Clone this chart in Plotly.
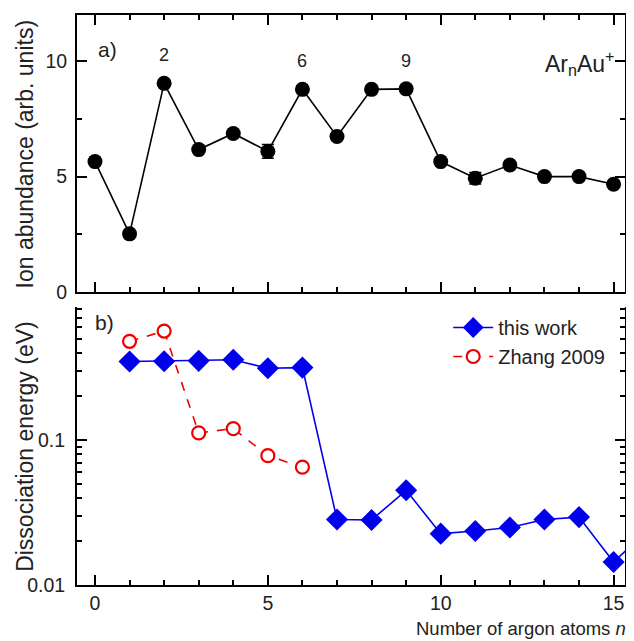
import plotly.graph_objects as go

# ---- data ----
n_abund = list(range(16))
abundance = [5.65, 2.52, 9.04, 6.17, 6.87, 6.09, 8.78, 6.74, 8.78, 8.80, 5.65, 4.93, 5.50, 5.00, 5.00, 4.67]
abund_err = [0, 0, 0, 0, 0, 0.3, 0, 0, 0, 0, 0, 0.25, 0, 0, 0, 0]

n_this = list(range(1, 17))
d_this = [0.348, 0.350, 0.352, 0.358, 0.313, 0.316, 0.0283, 0.0281, 0.045, 0.0226,
          0.0236, 0.0249, 0.0283, 0.0294, 0.0144, 0.024]

n_zhang = [1, 2, 3, 4, 5, 6]
d_zhang = [0.48, 0.565, 0.112, 0.12, 0.078, 0.065]

top_labels = [2, 6, 9]
bottom_labels = [6, 9, 14]

FONT = "Liberation Sans, Arial, sans-serif"

fig = go.Figure()

fig.add_trace(go.Scatter(
    x=n_abund, y=abundance, mode="lines+markers",
    line=dict(color="black", width=1.6),
    marker=dict(symbol="circle", size=15, color="black"),
    error_y=dict(type="data", array=abund_err, color="black", thickness=1.5, width=6),
    showlegend=False, xaxis="x", yaxis="y"))

fig.add_trace(go.Scatter(
    x=n_this, y=d_this, mode="lines+markers", name="this work",
    line=dict(color="#0000ee", width=1.6),
    marker=dict(symbol="diamond", size=17, color="#0000ee"),
    xaxis="x2", yaxis="y2"))

fig.add_trace(go.Scatter(
    x=n_zhang, y=d_zhang, mode="lines+markers", name="Zhang 2009",
    line=dict(color="#ee0000", width=1.6, dash="dash"),
    marker=dict(symbol="circle", size=13, color="white", line=dict(width=2.2, color="#ee0000")),
    xaxis="x2", yaxis="y2"))

axis_common = dict(showline=True, linewidth=2, linecolor="black", ticks="inside",
                   tickwidth=1.6, tickcolor="black", showgrid=False, zeroline=False,
                   tickfont=dict(family=FONT, size=19.5, color="#222"))

xr = [-0.52, 15.33]
fig.update_layout(
    width=626, height=633,
    margin=dict(l=69, r=9, t=5, b=56),
    paper_bgcolor="white", plot_bgcolor="white",
    font=dict(family=FONT, size=18, color="#222"),
    xaxis=dict(domain=[0, 1], anchor="y", range=xr, mirror="ticks", dtick=5, tick0=0,
               ticklen=10, showticklabels=False,
               minor=dict(ticks="inside", dtick=1, tick0=0, ticklen=5, tickwidth=1.6, tickcolor="black"),
               **axis_common),
    yaxis=dict(domain=[0.514, 1], anchor="x", range=[0, 12], mirror="ticks", dtick=5, tick0=0,
               ticklen=10, ticklabelstandoff=4,
               minor=dict(ticks="inside", dtick=2.5, tick0=0, ticklen=5, tickwidth=1.6, tickcolor="black"),
               **axis_common),
    xaxis2=dict(domain=[0, 1], anchor="y2", range=xr, mirror=False, dtick=5, tick0=0,
                ticklen=10,
                minor=dict(ticks="inside", dtick=1, tick0=0, ticklen=5, tickwidth=1.6, tickcolor="black"),
                **axis_common),
    yaxis2=dict(domain=[0, 0.488], anchor="x2", type="log", range=[-2, -0.081], mirror="ticks",
                tickvals=[0.01, 0.1], ticktext=["0.01", "0.1"], ticklen=10, ticklabelstandoff=6,
                minor=dict(ticks="inside", tickmode="array",
                           tickvals=[0.02, 0.03, 0.04, 0.05, 0.06, 0.07, 0.08, 0.09,
                                     0.2, 0.3, 0.4, 0.5, 0.6, 0.7, 0.8],
                           ticklen=5, tickwidth=1.6, tickcolor="black"),
                **axis_common),
    legend=dict(x=0.973, xanchor="right", y=0.486, yanchor="top",
                bgcolor="rgba(0,0,0,0)", font=dict(family=FONT, size=20, color="#222"),
                itemwidth=40, tracegroupgap=0),
)

ann = []
# axis titles
ann.append(dict(text="Ion abundance (arb. units)", xref="paper", yref="paper",
                x=-0.095, y=(0.514 + 1) / 2, textangle=-90, showarrow=False,
                font=dict(size=23), xanchor="center", yanchor="middle"))
ann.append(dict(text="Dissociation energy (eV)", xref="paper", yref="paper",
                x=-0.095, y=0.488 / 2, textangle=-90, showarrow=False,
                font=dict(size=23), xanchor="center", yanchor="middle"))
ann.append(dict(text="Number of argon atoms <i>n</i>", xref="paper", yref="paper",
                x=1.0055, y=-0.077, showarrow=False, font=dict(size=18.5),
                xanchor="right", yanchor="middle"))
# panel tags
ann.append(dict(text="a)", xref="paper", yref="paper", x=0.055, y=0.939,
                showarrow=False, font=dict(size=21), xanchor="center", yanchor="middle"))
ann.append(dict(text="b)", xref="paper", yref="paper", x=0.051, y=0.46,
                showarrow=False, font=dict(size=21), xanchor="center", yanchor="middle"))
ann.append(dict(text="Ar<sub>n</sub>Au<sup>+</sup>", xref="paper", yref="paper", x=0.985, y=0.915,
                showarrow=False, font=dict(size=23), xanchor="right", yanchor="middle"))
# peak labels
for n in top_labels:
    ann.append(dict(text=str(n), xref="x", yref="y", x=n, y=abundance[n_abund.index(n)],
                    yshift=28, showarrow=False, font=dict(size=18), yanchor="middle"))
for n in bottom_labels:
    ann.append(dict(text=str(n), xref="x2", yref="y2", x=n, y=d_this[n_this.index(n)],
                    yshift=30, showarrow=False, font=dict(size=18), yanchor="middle"))
fig.update_layout(annotations=ann)

fig.write_html("out.html")
